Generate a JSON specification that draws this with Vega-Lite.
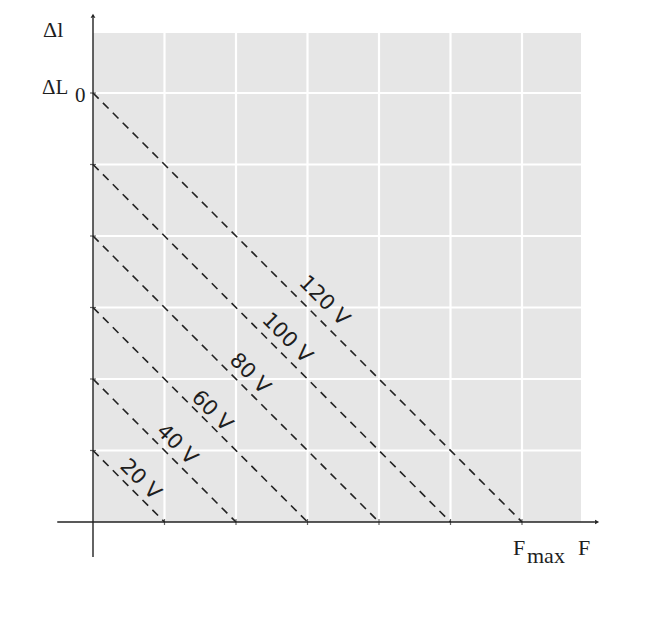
{
  "$schema": "https://vega.github.io/schema/vega-lite/v6.json",
  "width": 650,
  "height": 621,
  "autosize": {"type": "none"},
  "padding": 0,
  "background": "white",
  "config": {"view": {"stroke": null}},
  "datasets": {
    "bg": [{"x": 0, "y": 0, "x2": 6.825, "y2": 6.839}],
    "vgrid": [{"v": 1}, {"v": 2}, {"v": 3}, {"v": 4}, {"v": 5}, {"v": 6}],
    "lines": [
      {"k": 20, "x": 0, "y": 1, "x2": 1, "y2": 0},
      {"k": 40, "x": 0, "y": 2, "x2": 2, "y2": 0},
      {"k": 60, "x": 0, "y": 3, "x2": 3, "y2": 0},
      {"k": 80, "x": 0, "y": 4, "x2": 4, "y2": 0},
      {"k": 100, "x": 0, "y": 5, "x2": 5, "y2": 0},
      {"k": 120, "x": 0, "y": 6, "x2": 6, "y2": 0}
    ],
    "vlabels": [
      {"label": "20 V", "x": 0.66, "y": 0.59},
      {"label": "40 V", "x": 1.17, "y": 1.08},
      {"label": "60 V", "x": 1.66, "y": 1.55},
      {"label": "80 V", "x": 2.19, "y": 2.07},
      {"label": "100 V", "x": 2.71, "y": 2.57},
      {"label": "120 V", "x": 3.23, "y": 3.09}
    ],
    "axes": [
      {"x": -0.5, "y": 0, "x2": 7.02, "y2": 0},
      {"x": 0, "y": -0.49, "x2": 0, "y2": 7.05}
    ],
    "texts": [
      {"t": "Δl", "x": -0.699, "y": 6.783, "s": 22},
      {"t": "ΔL", "x": -0.713, "y": 5.986, "s": 21},
      {"t": "0", "x": -0.252, "y": 5.874, "s": 21},
      {"t": "F", "x": 5.874, "y": -0.462, "s": 22},
      {"t": "max", "x": 6.07, "y": -0.573, "s": 22},
      {"t": "F", "x": 6.783, "y": -0.462, "s": 22}
    ]
  },
  "layer": [
    {
      "data": {"name": "bg"},
      "mark": {"type": "rect", "color": "#e6e6e6"},
      "encoding": {
        "x": {"field": "x", "type": "quantitative", "scale": {"domain": [-1.3007, 7.7902], "nice": false, "zero": false}, "axis": null},
        "x2": {"field": "x2"},
        "y": {"field": "y", "type": "quantitative", "scale": {"domain": [-1.3846, 7.3007], "nice": false, "zero": false}, "axis": null},
        "y2": {"field": "y2"}
      }
    },
    {
      "data": {"name": "vgrid"},
      "mark": {"type": "rule", "color": "white", "strokeWidth": 2.2},
      "encoding": {
        "x": {"field": "v", "type": "quantitative"},
        "y": {"datum": 0},
        "y2": {"datum": 6.839}
      }
    },
    {
      "data": {"name": "vgrid"},
      "mark": {"type": "rule", "color": "white", "strokeWidth": 2.2},
      "encoding": {
        "y": {"field": "v", "type": "quantitative"},
        "x": {"datum": 0},
        "x2": {"datum": 6.825}
      }
    },
    {
      "data": {"name": "lines"},
      "mark": {"type": "rule", "color": "#222222", "strokeWidth": 1.6, "strokeDash": [8, 6]},
      "encoding": {
        "x": {"field": "x", "type": "quantitative"},
        "y": {"field": "y", "type": "quantitative"},
        "x2": {"field": "x2"},
        "y2": {"field": "y2"}
      }
    },
    {
      "data": {"name": "axes"},
      "mark": {"type": "rule", "color": "#222222", "strokeWidth": 1.4},
      "encoding": {
        "x": {"field": "x", "type": "quantitative"},
        "y": {"field": "y", "type": "quantitative"},
        "x2": {"field": "x2"},
        "y2": {"field": "y2"}
      }
    },
    {
      "data": {"name": "vgrid"},
      "mark": {"type": "tick", "orient": "horizontal", "size": 6, "thickness": 1.2, "color": "#222222"},
      "encoding": {
        "y": {"field": "v", "type": "quantitative"},
        "x": {"datum": 0}
      }
    },
    {
      "data": {"name": "vgrid"},
      "mark": {"type": "tick", "orient": "vertical", "size": 6, "thickness": 1.2, "color": "#222222"},
      "encoding": {
        "x": {"field": "v", "type": "quantitative"},
        "y": {"datum": 0}
      }
    },
    {
      "data": {"values": [{"x": 7.05, "y": 0}]},
      "mark": {"type": "point", "shape": "triangle-right", "filled": true, "size": 22, "color": "#222222", "opacity": 1},
      "encoding": {
        "x": {"field": "x", "type": "quantitative"},
        "y": {"field": "y", "type": "quantitative"}
      }
    },
    {
      "data": {"values": [{"x": 0, "y": 7.08}]},
      "mark": {"type": "point", "shape": "triangle-up", "filled": true, "size": 22, "color": "#222222", "opacity": 1},
      "encoding": {
        "x": {"field": "x", "type": "quantitative"},
        "y": {"field": "y", "type": "quantitative"}
      }
    },
    {
      "data": {"name": "vlabels"},
      "mark": {"type": "text", "angle": 45, "align": "center", "baseline": "middle", "font": "DejaVu Sans", "fontSize": 21, "color": "#1e1e1e"},
      "encoding": {
        "x": {"field": "x", "type": "quantitative"},
        "y": {"field": "y", "type": "quantitative"},
        "text": {"field": "label"}
      }
    },
    {
      "data": {"name": "texts"},
      "mark": {"type": "text", "align": "left", "baseline": "alphabetic", "font": "Liberation Serif", "color": "#1e1e1e"},
      "encoding": {
        "x": {"field": "x", "type": "quantitative"},
        "y": {"field": "y", "type": "quantitative"},
        "text": {"field": "t"},
        "size": {"field": "s", "type": "quantitative", "scale": null}
      }
    }
  ]
}
